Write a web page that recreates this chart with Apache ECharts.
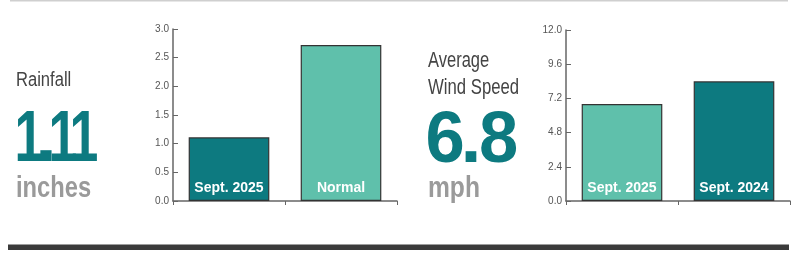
<!DOCTYPE html>
<html><head><meta charset="utf-8">
<script src="https://cdn.jsdelivr.net/npm/echarts@6/dist/echarts.min.js"></script>
<style>html,body{margin:0;padding:0;background:#fff}#c{width:799px;height:253px}</style>
</head><body><div id="c"></div>
<script>
const rainCategories = ['Sept. 2025', 'Normal'];
const rainValues = [1.11, 2.72];
const rainTicks = [0, 3, 0.5];
const windCategories = ['Sept. 2025', 'Sept. 2024'];
const windValues = [6.8, 8.4];
const windTicks = [0, 12, 2.4];
const rainHeadline = ['Rainfall', '1.11', 'inches'];
const windHeadline = ['Average', 'Wind Speed', '6.8', 'mph'];

const DARK = '#0d7a80', LIGHT = '#5fc0ab';
const FONT = "'Liberation Sans',Arial,sans-serif";

const chart = echarts.init(document.getElementById('c'), null, {renderer: 'canvas'});

function yAx(idx, t) {
  return {
    gridIndex: idx, type: 'value', min: t[0], max: t[1], interval: t[2],
    axisLine: {show: true, lineStyle: {color: '#666', width: 1.5}},
    axisTick: {show: true, inside: true, length: 5, lineStyle: {color: '#666'}},
    splitLine: {show: false},
    axisLabel: {color: '#555', fontSize: 10, fontFamily: FONT, margin: 4,
      formatter: v => v.toFixed(1)}
  };
}
function xAx(idx, cats) {
  return {
    gridIndex: idx, type: 'category', data: cats,
    axisLine: {show: true, lineStyle: {color: '#666', width: 1.5}},
    axisTick: {show: true, length: 4, lineStyle: {color: '#666'}},
    axisLabel: {show: false}
  };
}
function barSeries(idx, vals, colors) {
  return {
    type: 'bar', xAxisIndex: idx, yAxisIndex: idx, barWidth: '72%',
    data: vals.map((v, i) => ({value: v, itemStyle: {color: colors[i]}})),
    itemStyle: {borderColor: '#333', borderWidth: 1.2},
    label: {show: true, position: 'insideBottom', distance: 6,
      formatter: p => p.name, color: '#fff', fontWeight: 'bold', fontSize: 14, fontFamily: FONT},
    silent: true
  };
}

function txt(x, capTop, s, size, weight, color, sx, align) {
  return {type: 'text', x: x, y: capTop - 0.03 * size, scaleX: sx || 1, silent: true,
    style: {text: s, font: weight + ' ' + size + 'px ' + FONT, fill: color,
      textAlign: align || 'left'}};
}
// big numbers: each glyph centred at its own spot, condensed
function bigNumber(str, centers, capTop, size, scales) {
  return str.split('').map((ch, i) =>
    txt(centers[i], capTop, ch, size, 'bold', DARK, scales[i], 'center'));
}

chart.setOption({
  animation: false,
  grid: [
    {left: 173, right: 402, top: 29, bottom: 52},
    {left: 566, right: 9, top: 30, bottom: 52}
  ],
  xAxis: [xAx(0, rainCategories), xAx(1, windCategories)],
  yAxis: [yAx(0, rainTicks), yAx(1, windTicks)],
  series: [
    barSeries(0, rainValues, [DARK, LIGHT]),
    barSeries(1, windValues, [LIGHT, DARK])
  ],
  graphic: [
    {type: 'rect', shape: {x: 10, y: 0, width: 778, height: 1.5}, style: {fill: '#cfcfcf'}, silent: true},
    {type: 'rect', shape: {x: 8, y: 244.5, width: 781, height: 5.5}, style: {fill: '#3a3a3a'}, silent: true},
    txt(16, 71, rainHeadline[0], 19.5, 'normal', '#444', 0.85),
    ...bigNumber(rainHeadline[1], [29, 46, 63, 84], 107, 72, [0.72, 1.1, 0.72, 0.72]),
    txt(16, 175, rainHeadline[2], 30, 'bold', '#9a9a9a', 0.79),
    txt(428, 51, windHeadline[0], 22, 'normal', '#444', 0.75),
    txt(428, 78, windHeadline[1], 22, 'normal', '#444', 0.76),
    ...bigNumber(windHeadline[2], [445, 471, 498.5], 108, 72, [0.98, 1.05, 0.98]),
    txt(428, 175, windHeadline[3], 30, 'bold', '#9a9a9a', 0.82)
  ]
});
</script></body></html>
